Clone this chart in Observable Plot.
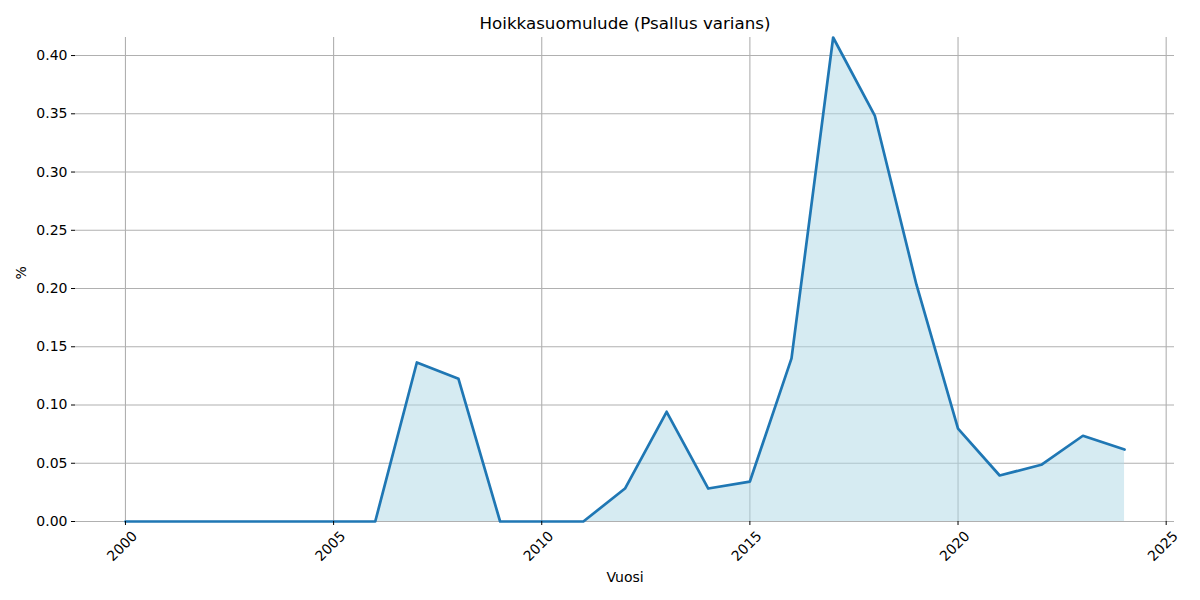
<!DOCTYPE html>
<html>
<head>
<meta charset="utf-8">
<script src="https://cdn.jsdelivr.net/npm/d3@7"></script>
<script src="https://cdn.jsdelivr.net/npm/@observablehq/plot@0.6"></script>
<style>
  html, body { margin: 0; padding: 0; background: #fff; }
  #chart svg { display: block; }
</style>
</head>
<body>
<div id="chart"></div>
<script>
const title = "Hoikkasuomulude (Psallus varians)";
const xLabel = "Vuosi";
const yLabel = "%";
const years = [2000,2001,2002,2003,2004,2005,2006,2007,2008,2009,2010,2011,2012,2013,2014,2015,2016,2017,2018,2019,2020,2021,2022,2023,2024];
const values = [0,0,0,0,0,0,0,0.1365,0.1225,0,0,0,0.0283,0.0942,0.0283,0.0343,0.140,0.4155,0.3485,0.2035,0.0798,0.0395,0.0487,0.0736,0.0618];
const xTicks = [2000,2005,2010,2015,2020,2025];
const yTicks = [0,0.05,0.10,0.15,0.20,0.25,0.30,0.35,0.40];

const data = years.map((y, i) => ({year: y, value: values[i]}));
const font = "'DejaVu Sans', sans-serif";

const chart = Plot.plot({
  width: 1200,
  height: 600,
  marginLeft: 75,
  marginRight: 26,
  marginTop: 37,
  marginBottom: 79,
  style: {fontFamily: font, fontSize: "14px", color: "#000", background: "#fff"},
  x: {domain: [1998.8, 2025.2]},
  y: {domain: [0, 0.4155]},
  marks: [
    Plot.gridX(xTicks, {stroke: "#b0b0b0", strokeOpacity: 1, strokeWidth: 1.1}),
    Plot.gridY(yTicks, {stroke: "#b0b0b0", strokeOpacity: 1, strokeWidth: 1.1}),
    Plot.areaY(data, {x: "year", y: "value", fill: "lightblue", fillOpacity: 0.5}),
    Plot.lineY(data, {x: "year", y: "value", stroke: "#1f77b4", strokeWidth: 2.7}),
    Plot.axisY(yTicks, {tickSize: 4, tickPadding: 4, tickFormat: d3.format(".2f"), label: null, fontSize: 14}),
    Plot.axisX(xTicks, {tickSize: 4, text: null, label: null}),
    Plot.text(xTicks, {x: d => d, frameAnchor: "bottom", dy: 28, rotate: -45, text: d => String(d), textAnchor: "middle", fontSize: 14, fill: "#000"}),
    Plot.text([xLabel], {frameAnchor: "bottom", dy: 60, text: d => d, fontSize: 14, fill: "#000"}),
    Plot.text([yLabel], {frameAnchor: "left", dx: -54, rotate: -90, text: d => d, fontSize: 14, fill: "#000"}),
    Plot.text([title], {frameAnchor: "top", dy: -20, text: d => d, fontSize: 16.7, fill: "#000"})
  ]
});
document.getElementById("chart").appendChild(chart);
</script>
</body>
</html>
